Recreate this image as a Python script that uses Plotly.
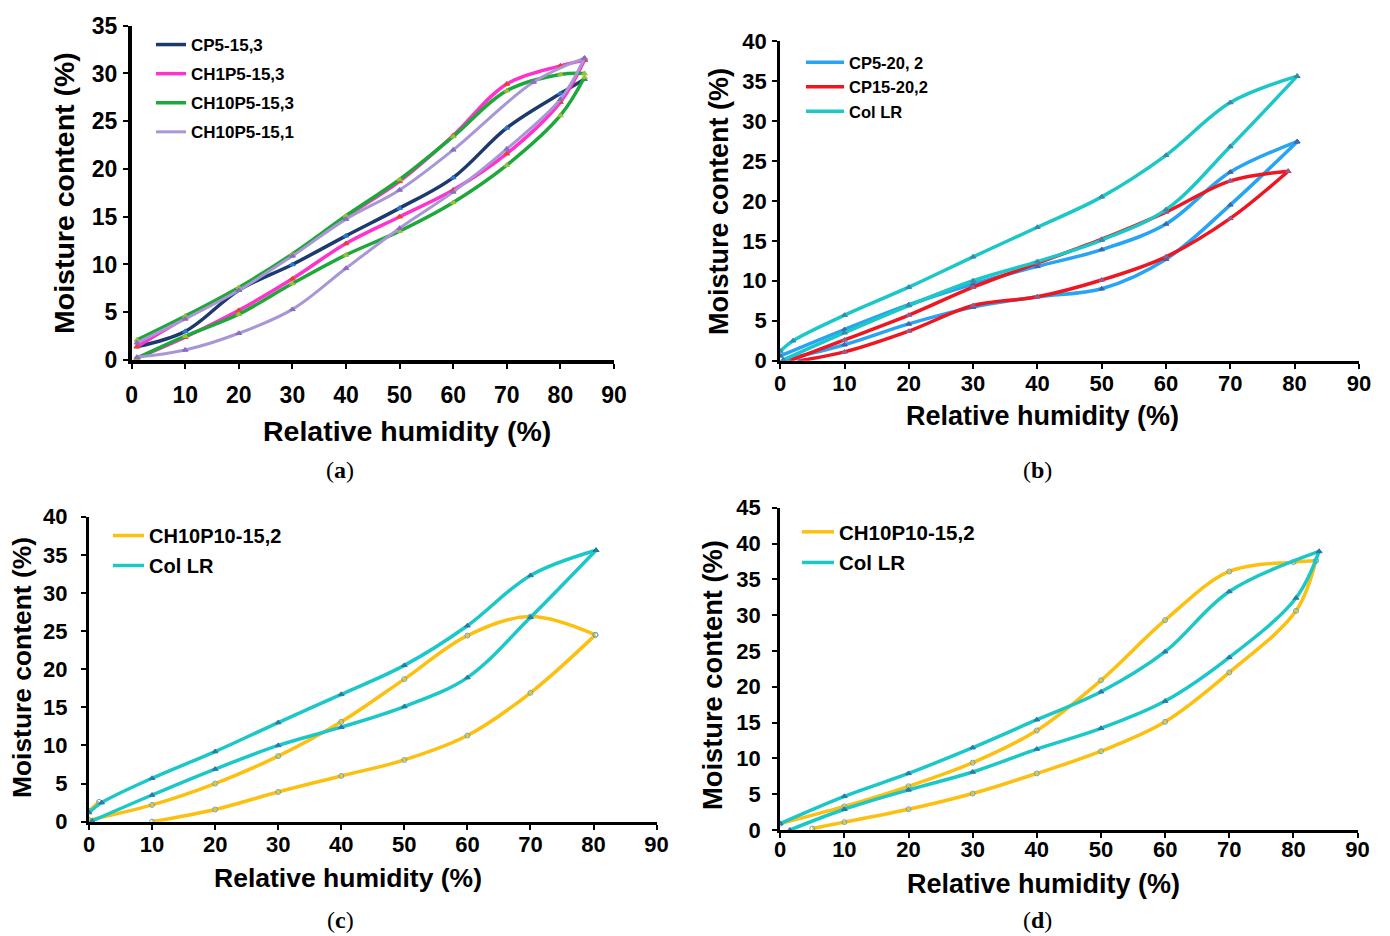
import plotly.graph_objects as go

W, H = 1390, 936

# ---------------- data ----------------
# Panel (a)
A_CP5_X = [1, 10, 20, 30, 40, 50, 60, 70, 80, 84.5]
A_CP5_Y = [1.4, 3.0, 7.3, 10.0, 13.0, 15.9, 19.1, 24.3, 27.9, 29.4]

A_CH1_ADS_X = [1, 10, 20, 30, 40, 50, 60, 70, 80, 84.5]
A_CH1_ADS_Y = [0.2, 2.4, 5.2, 8.5, 12.2, 15.0, 17.8, 21.6, 27.0, 31.4]
A_CH1_DES_X = [84.5, 80, 70, 60, 50, 40, 30, 20, 10, 1]
A_CH1_DES_Y = [31.4, 30.8, 28.9, 23.5, 18.7, 15.0, 11.0, 7.5, 4.4, 1.4]

A_CH10_3_ADS_X = [1, 10, 20, 30, 40, 50, 60, 70, 80, 84.5]
A_CH10_3_ADS_Y = [0.2, 2.5, 4.8, 8.0, 11.0, 13.5, 16.5, 20.4, 25.6, 29.6]
A_CH10_3_DES_X = [84.5, 80, 70, 60, 50, 40, 30, 20, 10, 1]
A_CH10_3_DES_Y = [30.0, 29.9, 28.2, 23.4, 18.9, 15.1, 11.1, 7.6, 4.6, 2.1]

A_CH10_1_ADS_X = [1, 10, 20, 30, 40, 50, 60, 70, 80, 84.5]
A_CH10_1_ADS_Y = [0.3, 1.05, 2.8, 5.3, 9.6, 13.8, 17.6, 22.1, 27.3, 31.6]
A_CH10_1_DES_X = [84.5, 75, 60, 50, 40, 30, 20, 10, 1]
A_CH10_1_DES_Y = [31.6, 29.1, 22.0, 17.8, 14.75, 10.9, 7.3, 4.3, 1.8]

# Panel (b)
B_CP5_ADS_X = [0.5, 10, 20, 30, 40, 50, 60, 70, 80.4]
B_CP5_ADS_Y = [0.1, 2.0, 4.6, 6.7, 8.0, 9.0, 12.7, 19.5, 27.4]
B_CP5_DES_X = [80.4, 70, 60, 50, 40, 30, 20, 10, 0]
B_CP5_DES_Y = [27.4, 23.6, 17.1, 13.9, 11.8, 9.6, 7.0, 3.9, 0.6]

B_CP15_ADS_X = [3, 10, 20, 30, 40, 50, 60, 70, 79]
B_CP15_ADS_Y = [0.0, 1.1, 3.7, 6.9, 8.0, 10.1, 13.0, 17.8, 23.7]
B_CP15_DES_X = [79, 70, 60, 50, 40, 30, 20, 10, 1.5]
B_CP15_DES_Y = [23.7, 22.5, 18.6, 15.2, 12.2, 9.2, 5.7, 2.6, 0.0]

# Col LR (panels b and c)
COL_ADS_X = [0.5, 10, 20, 30, 40, 50, 60, 70, 80.4]
COL_ADS_Y = [0.1, 3.5, 6.9, 10.0, 12.4, 15.1, 18.9, 26.8, 35.6]
COL_DES_X = [80.4, 70, 60, 50, 40, 30, 20, 10, 2, 0]
COL_DES_Y = [35.6, 32.3, 25.7, 20.5, 16.7, 13.0, 9.2, 5.7, 2.5, 1.2]

# Panel (c)
C_CH_ADS_X = [10, 20, 30, 40, 50, 60, 70, 80.3]
C_CH_ADS_Y = [0.0, 1.6, 3.9, 6.0, 8.1, 11.3, 16.9, 24.5]
C_CH_DES_X = [80.3, 70, 60, 50, 40, 30, 20, 10, 0]
C_CH_DES_Y = [24.5, 26.9, 24.4, 18.7, 13.1, 8.6, 5.0, 2.2, 0.2]
C_CH_EXTRA_X = [0, 1.6]
C_CH_EXTRA_Y = [1.4, 2.6]

# Panel (d)
D_CH_ADS_X = [5, 10, 20, 30, 40, 50, 60, 70, 80.4, 83.5]
D_CH_ADS_Y = [0.2, 1.1, 2.9, 5.1, 7.9, 11.0, 15.1, 22.0, 30.6, 37.6]
D_CH_DES_X = [83.5, 80, 70, 60, 50, 40, 30, 20, 10, 0]
D_CH_DES_Y = [37.6, 37.4, 36.1, 29.3, 20.9, 13.9, 9.4, 6.1, 3.3, 0.9]

D_COL_ADS_X = [1.5, 10, 20, 30, 40, 50, 60, 70, 80.4, 84]
D_COL_ADS_Y = [0.0, 2.9, 5.6, 8.1, 11.3, 14.2, 18.0, 24.1, 32.4, 38.9]
D_COL_DES_X = [84, 70, 60, 50, 40, 30, 20, 10, 0]
D_COL_DES_Y = [38.9, 33.3, 24.9, 19.3, 15.4, 11.5, 7.9, 4.7, 0.9]

X_RANGE = [0, 90]
Y_RANGES = {"a": [0, 35], "b": [0, 40], "c": [0, 40], "d": [0, 45]}

# ---------------- styling ----------------
C_NAVY = "#1c3a6e"
C_PINK = "#ff33cc"
C_GREEN = "#1ea83a"
C_LAV = "#a996d6"
C_BLUE = "#27a4f2"
C_RED = "#ee1620"
C_TURQ = "#1cc7c7"
C_GOLD = "#fcc010"

SANS = "Liberation Sans"
SERIF = "Liberation Serif"


def xdom(l, r):
    return [l / W, r / W]


def ydom(top, bottom):
    return [1 - bottom / H, 1 - top / H]


fig = go.Figure()


def add_series(branches, name, color, width, msym, mcolor, ax, legend):
    first = True
    for bx, by in branches:
        fig.add_trace(go.Scatter(
            x=bx, y=by, mode="lines", name=name, legendgroup=legend + name,
            showlegend=first, legend=legend,
            line=dict(color=color, width=width, shape="spline", smoothing=1.0),
            xaxis="x" + ax, yaxis="y" + ax, hoverinfo="skip"))
        first = False
    for bx, by in branches:
        fig.add_trace(go.Scatter(
            x=bx, y=by, mode="markers", showlegend=False, legend=legend,
            legendgroup=legend + name,
            marker=dict(symbol=msym, size=5, color=mcolor,
                        line=dict(width=1, color=mcolor)),
            xaxis="x" + ax, yaxis="y" + ax, hoverinfo="skip"))


# panel a
add_series([(A_CP5_X, A_CP5_Y)], "CP5-15,3", C_NAVY, 3.5, "triangle-up", "#2a7ad0", "", "legend")
add_series([(A_CH1_ADS_X, A_CH1_ADS_Y), (A_CH1_DES_X, A_CH1_DES_Y)], "CH1P5-15,3", C_PINK, 3.5,
           "triangle-up", "#e8402a", "", "legend")
add_series([(A_CH10_3_ADS_X, A_CH10_3_ADS_Y), (A_CH10_3_DES_X, A_CH10_3_DES_Y)], "CH10P5-15,3", C_GREEN, 3.5,
           "triangle-up", "#9cbf3a", "", "legend")
add_series([(A_CH10_1_ADS_X, A_CH10_1_ADS_Y), (A_CH10_1_DES_X, A_CH10_1_DES_Y)], "CH10P5-15,1", C_LAV, 3,
           "triangle-up", "#8a6cc0", "", "legend")

# panel b
add_series([(B_CP5_ADS_X, B_CP5_ADS_Y), (B_CP5_DES_X, B_CP5_DES_Y)], "CP5-20, 2", C_BLUE, 3.5,
           "triangle-up", "#3a6aa8", "2", "legend2")
add_series([(B_CP15_ADS_X, B_CP15_ADS_Y), (B_CP15_DES_X, B_CP15_DES_Y)], "CP15-20,2", C_RED, 3.5,
           "triangle-up", "#9a5a8a", "2", "legend2")
add_series([(COL_ADS_X, COL_ADS_Y), (COL_DES_X, COL_DES_Y)], "Col LR", C_TURQ, 3.5,
           "triangle-up", "#3a8aa8", "2", "legend2")

# panel c
add_series([(C_CH_ADS_X, C_CH_ADS_Y), (C_CH_DES_X, C_CH_DES_Y), (C_CH_EXTRA_X, C_CH_EXTRA_Y)],
           "CH10P10-15,2", C_GOLD, 3.5, "circle-open", "#5aa8d8", "3", "legend3")
add_series([(COL_ADS_X, COL_ADS_Y), (COL_DES_X, COL_DES_Y)], "Col LR", C_TURQ, 3.5,
           "triangle-up", "#2a7aa8", "3", "legend3")

# panel d
add_series([(D_CH_ADS_X, D_CH_ADS_Y), (D_CH_DES_X, D_CH_DES_Y)],
           "CH10P10-15,2", C_GOLD, 3.5, "circle-open", "#5aa8d8", "4", "legend4")
add_series([(D_COL_ADS_X, D_COL_ADS_Y), (D_COL_DES_X, D_COL_DES_Y)], "Col LR", C_TURQ, 3.5,
           "triangle-up", "#2a7aa8", "4", "legend4")


def axis(domain, rng, dtick, anchor, fsize, standoff, lw):
    return dict(domain=domain, range=rng, dtick=dtick, anchor=anchor,
                showline=True, linecolor="black", linewidth=lw,
                ticks="outside", ticklen=5, tickwidth=1.5, tickcolor="black",
                showgrid=False, zeroline=False, ticklabelstandoff=standoff,
                automargin=False,
                tickfont=dict(family=SANS, size=fsize, color="black", weight="bold"),
                fixedrange=True)


panels = {
    "a": dict(x=(131.6, 614), y=(25.7, 360), ax="", tick=23, xs=7, ys=1, lw=3.5),
    "b": dict(x=(780.2, 1358.9), y=(41, 360.7), ax="2", tick=22, xs=-4, ys=1, lw=3),
    "c": dict(x=(89, 656.6), y=(516.7, 821.7), ax="3", tick=22, xs=-4, ys=9, lw=3),
    "d": dict(x=(780.2, 1357.6), y=(507.7, 830), ax="4", tick=22, xs=-7, ys=7, lw=3),
}

layout = dict(width=W, height=H, margin=dict(l=0, r=0, t=0, b=0, autoexpand=False),
              paper_bgcolor="white", plot_bgcolor="white", showlegend=True)

for key, p in panels.items():
    ax = p["ax"]
    layout["xaxis" + ax] = axis(xdom(*p["x"]), X_RANGE, 10, "y" + ax, p["tick"], p["xs"], p["lw"])
    layout["yaxis" + ax] = axis(ydom(*p["y"]), Y_RANGES[key], 5, "x" + ax, p["tick"], p["ys"], p["lw"])


def legend(xpx, ypx, fsize, gap, iw):
    return dict(x=xpx / W, y=1 - ypx / H, xanchor="left", yanchor="top",
                bgcolor="rgba(0,0,0,0)", borderwidth=0, itemwidth=iw,
                tracegroupgap=gap, traceorder="grouped",
                font=dict(family=SANS, size=fsize, color="black", weight="bold"))


layout["legend"] = legend(151, 27, 17, 4, 30)
layout["legend2"] = legend(801, 45, 16.5, 0, 38)
layout["legend3"] = legend(108, 516, 20, 1, 31)
layout["legend4"] = legend(797, 512, 20.5, 1, 32)

annotations = []


def ann(text, xpx, ypx, size, angle=0, family=SANS, bold=True):
    annotations.append(dict(
        text=text, x=xpx / W, y=1 - ypx / H, xref="paper", yref="paper",
        xanchor="center", yanchor="middle", showarrow=False, textangle=angle,
        font=dict(family=family, size=size, color="black", weight="bold" if bold else "normal")))


X_TITLE = "Relative humidity (%)"
Y_TITLE = "Moisture content (%)"
ann(X_TITLE, 407, 431, 28.5)
ann(X_TITLE, 1042, 416, 27)
ann(X_TITLE, 348, 878, 26.5)
ann(X_TITLE, 1043, 884, 27)
ann(Y_TITLE, 64, 193, 28.5, -90)
ann(Y_TITLE, 719, 202, 27, -90)
ann(Y_TITLE, 22, 668, 26.4, -90)
ann(Y_TITLE, 712, 675, 27.3, -90)

PANEL_LABELS = ["a", "b", "c", "d"]
for lab, (xp, yp) in zip(PANEL_LABELS, [(340, 470), (1037, 470), (340, 920), (1037, 920)]):
    ann("(<b>%s</b>)" % lab, xp, yp, 24, family=SERIF, bold=False)

layout["annotations"] = annotations
fig.update_layout(**layout)
fig.write_html("out.html")
